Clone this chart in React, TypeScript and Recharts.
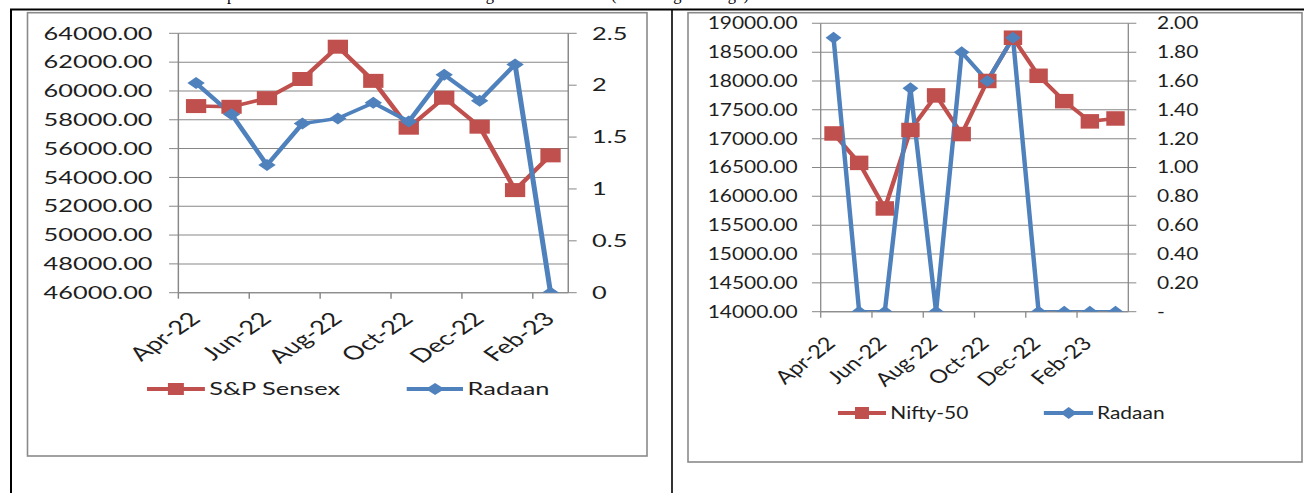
import React from 'react';
import { LineChart, Line, XAxis, YAxis, CartesianGrid } from 'recharts';

const RED = '#C0504D';
const BLUE = '#4F81BD';
const GRID = '#878787';
const FRAME = '#8a8a8a';
const INK = '#1e1e1e';
const FONT = 'Lato, "Open Sans", sans-serif';

// left panel: S&P Sensex against Radaan
const sensexMonths = ['Apr-22', 'May-22', 'Jun-22', 'Jul-22', 'Aug-22', 'Sep-22', 'Oct-22', 'Nov-22', 'Dec-22', 'Jan-23', 'Feb-23'];
const sensexClose = [58950, 58900, 59500, 60830, 63070, 60700, 57450, 59530, 57520, 53120, 55530];
const sensexRadaan = [2.02, 1.72, 1.23, 1.63, 1.68, 1.83, 1.65, 2.1, 1.85, 2.2, 0];
const sensexTicks = [46000, 48000, 50000, 52000, 54000, 56000, 58000, 60000, 62000, 64000];
const sensexRadaanTicks = [0, 0.5, 1, 1.5, 2, 2.5];

// right panel: Nifty-50 against Radaan
const niftyMonths = ['Apr-22', 'May-22', 'Jun-22', 'Jul-22', 'Aug-22', 'Sep-22', 'Oct-22', 'Nov-22', 'Dec-22', 'Jan-23', 'Feb-23', 'Mar-23'];
const niftyClose = [17090, 16580, 15790, 17150, 17750, 17080, 18000, 18750, 18090, 17650, 17300, 17350];
const niftyRadaan = [1.9, 0, 0, 1.55, 0, 1.8, 1.6, 1.9, 0, 0, 0, 0];
const niftyTicks = [14000, 14500, 15000, 15500, 16000, 16500, 17000, 17500, 18000, 18500, 19000];
const niftyRadaanTicks = [0, 0.2, 0.4, 0.6, 0.8, 1, 1.2, 1.4, 1.6, 1.8, 2];

const sensexRows = sensexMonths.map((month, i) => ({ month, index: sensexClose[i], radaan: sensexRadaan[i] }));
const niftyRows = niftyMonths.map((month, i) => ({ month, index: niftyClose[i], radaan: niftyRadaan[i] }));

// the source picture is stretched sideways, so each panel is drawn narrow and scaled by k
const sensexCfg = {
  left: 28, top: 13, k: 1.45, width: 426.9, height: 443,
  plotTop: 20.3, xAxisHeight: 163.3, leftW: 103.7, rightW: 54.3,
  leftDomain: [46000, 64000], leftTicks: sensexTicks,
  rightDomain: [0, 2.5], rightTicks: sensexRadaanTicks, rightFmt: (v: number) => String(v),
  tickFont: 17.5, labelFont: 19, lTick: [6.4, 11.4], rTick: [5.8, 10.6],
  labelDx: 4, labelDy: 27.5, square: 14, diamond: [12, 12],
  legendTop: 366, keys: [
    { left: 82, w: 40, gap: 3, label: 'S&P Sensex', color: RED, shape: 'square' },
    { left: 260.7, w: 39.5, gap: 3, label: 'Radaan', color: BLUE, shape: 'diamond' },
  ],
};

const niftyCfg = {
  left: 688, top: 13, k: 1.27, width: 483.5, height: 449,
  plotTop: 10.3, xAxisHeight: 150.3, leftW: 104.5, rightW: 136.8,
  leftDomain: [14000, 19000], leftTicks: niftyTicks,
  rightDomain: [0, 2], rightTicks: niftyRadaanTicks, rightFmt: (v: number) => (v === 0 ? '-' : v.toFixed(2)),
  tickFont: 16.5, labelFont: 18.5, lTick: [6.9, 11.3], rTick: [6.3, 16.3],
  labelDx: 2.5, labelDy: 33, square: 14.5, diamond: [12.5, 12],
  legendTop: 390, keys: [
    { left: 118.3, w: 38, gap: 3, label: 'Nifty-50', color: RED, shape: 'square' },
    { left: 279.5, w: 39.5, gap: 3, label: 'Radaan', color: BLUE, shape: 'diamond' },
  ],
};

function MonthTick(props: any) {
  const { x, y, payload, cfg } = props;
  const half = payload.offset ?? 0;
  return (
    <g>
      <line x1={x - half} y1={y} x2={x - half} y2={y + 6} stroke={GRID} strokeWidth={1} />
      <text
        transform={`translate(${x + cfg.labelDx},${y + cfg.labelDy}) rotate(-45)`}
        textAnchor="end"
        fontSize={cfg.labelFont}
        fontFamily={FONT}
        fill={INK}
      >
        {payload.value}
      </text>
    </g>
  );
}

const squareDot = (size: number) => (p: any) => {
  if (p.cx == null || p.cy == null) return <g key={`s-${p.index}`} />;
  return <rect key={`s-${p.index}`} x={p.cx - size / 2} y={p.cy - size / 2} width={size} height={size} fill={RED} />;
};

const diamondDot = (w: number, h: number) => (p: any) => {
  if (p.cx == null || p.cy == null) return <g key={`d-${p.index}`} />;
  const { cx, cy } = p;
  return (
    <polygon
      key={`d-${p.index}`}
      points={`${cx},${cy - h / 2} ${cx + w / 2},${cy} ${cx},${cy + h / 2} ${cx - w / 2},${cy}`}
      fill={BLUE}
    />
  );
};

function LegendKey({ item, top, font }: any) {
  return (
    <div style={{ position: 'absolute', left: item.left, top, height: 20, display: 'flex', alignItems: 'center', whiteSpace: 'nowrap' }}>
      <svg width={item.w} height={20} style={{ display: 'block' }}>
        <line x1={0} y1={10} x2={item.w} y2={10} stroke={item.color} strokeWidth={4} />
        {item.shape === 'square' ? (
          <rect x={item.w / 2 - 5.5} y={4} width={11} height={12} fill={item.color} />
        ) : (
          <polygon points={`${item.w / 2},4 ${item.w / 2 + 6.5},10 ${item.w / 2},16 ${item.w / 2 - 6.5},10`} fill={item.color} />
        )}
      </svg>
      <span style={{ marginLeft: item.gap, fontFamily: FONT, fontSize: font, lineHeight: '20px', color: INK }}>{item.label}</span>
    </div>
  );
}

function Panel({ cfg, rows }: any) {
  const tickStyle = { fontSize: cfg.tickFont, fill: INK, fontFamily: FONT };
  return (
    <div
      style={{
        position: 'absolute', left: cfg.left, top: cfg.top, width: cfg.width, height: cfg.height,
        transform: `scaleX(${cfg.k})`, transformOrigin: '0 0',
      }}
    >
      <LineChart width={cfg.width} height={cfg.height} data={rows} margin={{ top: cfg.plotTop, right: 0, bottom: 0, left: 0 }}>
        <CartesianGrid yAxisId="l" vertical={false} stroke={GRID} strokeWidth={1} />
        <XAxis
          dataKey="month"
          scale="band"
          interval={1}
          height={cfg.xAxisHeight}
          axisLine={{ stroke: GRID, strokeWidth: 1 }}
          tickLine={false}
          tickSize={0}
          tickMargin={0}
          tick={(p: any) => <MonthTick {...p} cfg={cfg} />}
        />
        <YAxis
          yAxisId="l"
          width={cfg.leftW}
          domain={cfg.leftDomain}
          ticks={cfg.leftTicks}
          interval={0}
          allowDataOverflow
          tickFormatter={(v: number) => v.toFixed(2)}
          tick={tickStyle}
          tickSize={cfg.lTick[0]}
          tickMargin={cfg.lTick[1]}
          axisLine={{ stroke: GRID, strokeWidth: 1 }}
          tickLine={{ stroke: GRID, strokeWidth: 1 }}
        />
        <YAxis
          yAxisId="r"
          orientation="right"
          width={cfg.rightW}
          domain={cfg.rightDomain}
          ticks={cfg.rightTicks}
          interval={0}
          allowDataOverflow
          tickFormatter={cfg.rightFmt}
          tick={{ ...tickStyle, textAnchor: 'start' }}
          tickSize={cfg.rTick[0]}
          tickMargin={cfg.rTick[1]}
          axisLine={{ stroke: GRID, strokeWidth: 1 }}
          tickLine={{ stroke: GRID, strokeWidth: 1 }}
        />
        <Line
          yAxisId="l"
          type="linear"
          dataKey="index"
          stroke={RED}
          strokeWidth={3.5}
          dot={squareDot(cfg.square)}
          activeDot={false}
          isAnimationActive={false}
        />
        <Line
          yAxisId="r"
          type="linear"
          dataKey="radaan"
          stroke={BLUE}
          strokeWidth={3.5}
          dot={diamondDot(cfg.diamond[0], cfg.diamond[1])}
          activeDot={false}
          isAnimationActive={false}
        />
      </LineChart>
      {cfg.keys.map((item: any) => (
        <LegendKey key={item.label} item={item} top={cfg.legendTop} font={cfg.tickFont} />
      ))}
    </div>
  );
}

export default function App() {
  return (
    <div style={{ position: 'absolute', left: 0, top: 0, width: 1304, height: 493, overflow: 'hidden', background: '#fff' }}>
      {/* table rules, chart frames and the clipped caption line above */}
      <svg width={1304} height={493} style={{ position: 'absolute', left: 0, top: 0 }}>
        <text y={-0.5} fontFamily='"Liberation Serif", serif' fontSize={16.5} fill="#000">
          <tspan x={195}>Comparison</tspan>
          <tspan x={451}>during</tspan>
          <tspan x={611}>(Percentage Change)</tspan>
        </text>
        <line x1={10} y1={9.5} x2={1304} y2={9.5} stroke="#000" strokeWidth={2} />
        <line x1={11} y1={9} x2={11} y2={493} stroke="#000" strokeWidth={2} />
        <line x1={672} y1={9} x2={672} y2={493} stroke="#000" strokeWidth={1.6} />
        <rect x={27.5} y={12.7} width={619.5} height={443.3} fill="none" stroke={FRAME} strokeWidth={1.6} />
        <rect x={688} y={12.7} width={614} height={449.3} fill="none" stroke={FRAME} strokeWidth={1.6} />
      </svg>
      <Panel cfg={sensexCfg} rows={sensexRows} />
      <Panel cfg={niftyCfg} rows={niftyRows} />
    </div>
  );
}
